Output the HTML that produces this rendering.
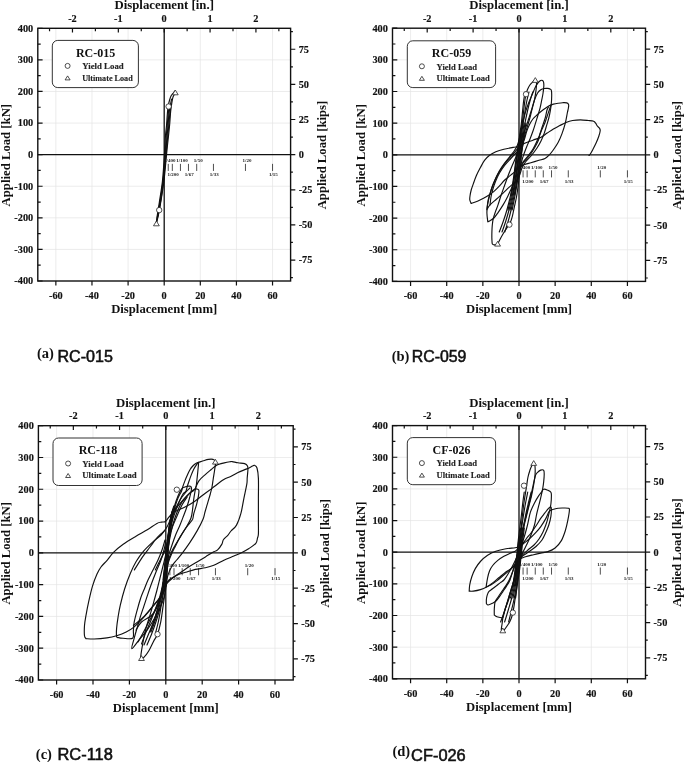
<!DOCTYPE html>
<html><head><meta charset="utf-8"><style>
html,body{margin:0;padding:0;background:#fff;width:685px;height:762px;overflow:hidden}
svg{display:block;filter:grayscale(1)}
</style></head><body>
<svg width="685" height="762" viewBox="0 0 685 762">
<rect width="685" height="762" fill="#fff"/>
<path d="M55.86 28.3V281M91.97 28.3V281M128.09 28.3V281M200.31 28.3V281M236.43 28.3V281M272.54 28.3V281M37.8 249.41H290.6M37.8 217.82H290.6M37.8 186.24H290.6M37.8 123.06H290.6M37.8 91.47H290.6M37.8 59.89H290.6" stroke="#e4e4e4" stroke-width="0.7" fill="none"/>
<path d="M37.8 154.65H290.6M164.2 28.3V281" stroke="#111" stroke-width="1.3" fill="none"/>
<path d="M37.8 281h4.8M37.8 265.21h2.9M37.8 249.41h4.8M37.8 233.62h2.9M37.8 217.82h4.8M37.8 202.03h2.9M37.8 186.24h4.8M37.8 170.44h2.9M37.8 154.65h4.8M37.8 138.86h2.9M37.8 123.06h4.8M37.8 107.27h2.9M37.8 91.47h4.8M37.8 75.68h2.9M37.8 59.89h4.8M37.8 44.09h2.9M37.8 28.3h4.8M55.86 281v4.5M91.97 281v4.5M128.09 281v4.5M164.2 281v4.5M200.31 281v4.5M236.43 281v4.5M272.54 281v4.5M49.54 28.3v2.9M72.47 28.3v4.3M95.4 28.3v2.9M118.33 28.3v4.3M141.27 28.3v2.9M164.2 28.3v4.3M187.13 28.3v2.9M210.07 28.3v4.3M233 28.3v2.9M255.93 28.3v4.3M278.86 28.3v2.9M290.6 277.59h2.3M290.6 260.03h4.7M290.6 242.47h2.3M290.6 224.9h4.7M290.6 207.34h2.3M290.6 189.78h4.7M290.6 172.21h2.3M290.6 154.65h4.7M290.6 137.09h2.3M290.6 119.52h4.7M290.6 101.96h2.3M290.6 84.4h4.7M290.6 66.83h2.3M290.6 49.27h4.7M290.6 31.71h2.3" stroke="#111" stroke-width="1.2" fill="none"/>
<rect x="37.8" y="28.3" width="252.8" height="252.7" fill="none" stroke="#111" stroke-width="1.4"/>
<g font-family="'Liberation Serif', serif" font-weight="bold" font-size="10.3" fill="#111" stroke="#111" stroke-width="0.15"><text x="33.2" y="284.4" text-anchor="end">-400</text><text x="33.2" y="252.81" text-anchor="end">-300</text><text x="33.2" y="221.22" text-anchor="end">-200</text><text x="33.2" y="189.64" text-anchor="end">-100</text><text x="33.2" y="158.05" text-anchor="end">0</text><text x="33.2" y="126.46" text-anchor="end">100</text><text x="33.2" y="94.88" text-anchor="end">200</text><text x="33.2" y="63.29" text-anchor="end">300</text><text x="33.2" y="31.7" text-anchor="end">400</text><text x="55.86" y="298.9" text-anchor="middle">-60</text><text x="91.97" y="298.9" text-anchor="middle">-40</text><text x="128.09" y="298.9" text-anchor="middle">-20</text><text x="164.2" y="298.9" text-anchor="middle">0</text><text x="200.31" y="298.9" text-anchor="middle">20</text><text x="236.43" y="298.9" text-anchor="middle">40</text><text x="272.54" y="298.9" text-anchor="middle">60</text><text x="72.47" y="21.7" text-anchor="middle">-2</text><text x="118.33" y="21.7" text-anchor="middle">-1</text><text x="164.2" y="21.7" text-anchor="middle">0</text><text x="210.07" y="21.7" text-anchor="middle">1</text><text x="255.93" y="21.7" text-anchor="middle">2</text><text x="298.7" y="263.43">-75</text><text x="298.7" y="228.3">-50</text><text x="298.7" y="193.18">-25</text><text x="298.7" y="158.05">0</text><text x="298.7" y="122.92">25</text><text x="298.7" y="87.8">50</text><text x="298.7" y="52.67">75</text></g>
<g font-family="'Liberation Serif', serif" font-weight="bold" font-size="12.9" fill="#111"><text x="164.2" y="312.8" text-anchor="middle" textLength="106" lengthAdjust="spacingAndGlyphs">Displacement [mm]</text><text x="164.2" y="9.3" text-anchor="middle" textLength="99.5" lengthAdjust="spacingAndGlyphs">Displacement [in.]</text><text transform="translate(9.8 155.15) rotate(-90)" text-anchor="middle" textLength="102.5" lengthAdjust="spacingAndGlyphs">Applied Load [kN]</text><text transform="translate(326.4 155.05) rotate(-90)" text-anchor="middle" textLength="108.5" lengthAdjust="spacingAndGlyphs">Applied Load [kips]</text></g>
<rect x="52.3" y="40.4" width="86.1" height="47.2" rx="5.5" fill="#fff" stroke="#333" stroke-width="1"/>
<text x="95.6" y="56.6" font-family="'Liberation Serif', serif" font-weight="bold" font-size="12" text-anchor="middle" fill="#111">RC-015</text>
<circle cx="67.6" cy="65.9" r="2.5" fill="#fff" stroke="#222" stroke-width="0.8"/>
<path d="M67.6 75.9l2.5 4h-5z" fill="#fff" stroke="#222" stroke-width="0.8"/>
<g font-family="'Liberation Serif', serif" font-weight="bold" font-size="8.4" fill="#222" stroke="#222" stroke-width="0.12"><text x="82.2" y="69.1" textLength="41.5" lengthAdjust="spacingAndGlyphs">Yield Load</text><text x="82.2" y="80.8" textLength="50.5" lengthAdjust="spacingAndGlyphs">Ultimate Load</text></g>
<path d="M168.26 163.85v7.1M172.33 163.85v7.1M180.45 163.85v7.1M188.46 163.85v7.1M196.7 163.85v7.1M213.45 163.85v7.1M245.46 163.85v7.1M272.54 163.85v7.1" stroke="#222" stroke-width="0.8" fill="none"/>
<g font-family="'Liberation Serif', serif" font-weight="bold" font-size="5" fill="#222"><text x="169.76" y="162.25" text-anchor="middle">1/400</text><text x="173.13" y="176.05" text-anchor="middle">1/200</text><text x="181.95" y="162.25" text-anchor="middle">1/100</text><text x="189.26" y="176.05" text-anchor="middle">1/67</text><text x="198.2" y="162.25" text-anchor="middle">1/50</text><text x="214.25" y="176.05" text-anchor="middle">1/33</text><text x="246.96" y="162.25" text-anchor="middle">1/20</text><text x="273.34" y="176.05" text-anchor="middle">1/15</text></g>
<path d="M156.4 222C156.6 220.5 157.12 216.25 157.6 213C158.08 209.75 158.5 207.75 159.3 202.5C160.1 197.25 161.6 188.58 162.4 181.5C163.2 174.42 163.72 165.25 164.1 160C164.48 154.75 164.52 153.33 164.7 150C164.88 146.67 165.02 143 165.2 140C165.38 137 165.58 134.37 165.8 132C166.02 129.63 166.23 128.93 166.5 125.8C166.77 122.67 167.12 116.5 167.4 113.2C167.68 109.9 167.83 108.2 168.2 106C168.57 103.8 169.13 101.67 169.6 100C170.07 98.33 170.47 97.05 171 96C171.53 94.95 172.18 94.5 172.8 93.7C173.42 92.9 174.38 91.62 174.7 91.2" fill="none" stroke="#111" stroke-width="1.15" stroke-linejoin="round" stroke-linecap="round"/>
<path d="M176.3 93C175.98 93.22 174.93 93.67 174.4 94.3C173.87 94.93 173.47 95.75 173.1 96.8C172.73 97.85 172.47 99.23 172.2 100.6C171.93 101.97 171.77 103.1 171.5 105C171.23 106.9 170.9 108.83 170.6 112C170.3 115.17 170.02 120.33 169.7 124C169.38 127.67 169.07 130.5 168.7 134C168.33 137.5 167.87 141.5 167.5 145C167.13 148.5 167.1 148.92 166.5 155C165.9 161.08 164.87 173.58 163.9 181.5C162.93 189.42 161.58 197.08 160.7 202.5C159.82 207.92 159.25 210.75 158.6 214C157.95 217.25 157.1 220.67 156.8 222" fill="none" stroke="#111" stroke-width="1.15" stroke-linejoin="round" stroke-linecap="round"/>
<path d="M156.6 221C157.13 218 158.7 209.67 159.8 203C160.9 196.33 162.28 188.17 163.2 181C164.12 173.83 164.83 165.17 165.3 160C165.77 154.83 165.73 153.67 166 150C166.27 146.33 166.57 142.03 166.9 138C167.23 133.97 167.65 129.93 168 125.8C168.35 121.67 168.6 116.67 169 113.2C169.4 109.73 169.97 107.37 170.4 105C170.83 102.63 171.4 100 171.6 99" fill="none" stroke="#111" stroke-width="1.15" stroke-linejoin="round" stroke-linecap="round"/>
<path d="M157.5 218C158 215 159.53 206.67 160.5 200C161.47 193.33 162.58 184.67 163.3 178C164.02 171.33 164.45 164.67 164.8 160C165.15 155.33 165.18 153.67 165.4 150C165.62 146.33 165.8 142.03 166.1 138C166.4 133.97 166.85 129.8 167.2 125.8C167.55 121.8 167.9 116.97 168.2 114C168.5 111.03 168.87 109 169 108" fill="none" stroke="#111" stroke-width="1.15" stroke-linejoin="round" stroke-linecap="round"/>
<path d="M158 216C158.53 213 160.2 204.67 161.2 198C162.2 191.33 163.23 182.83 164 176C164.77 169.17 165.35 161.83 165.8 157C166.25 152.17 166.37 150.5 166.7 147C167.03 143.5 167.43 139.83 167.8 136C168.17 132.17 168.55 127.83 168.9 124C169.25 120.17 169.58 116 169.9 113C170.22 110 170.65 107.17 170.8 106" fill="none" stroke="#111" stroke-width="1.15" stroke-linejoin="round" stroke-linecap="round"/>
<circle cx="168.6" cy="106.5" r="2.7" fill="#fff" stroke="#222" stroke-width="0.8"/>
<path d="M175.3 90l2.9 4.8h-5.8z" fill="#fff" stroke="#222" stroke-width="0.8" stroke-linejoin="round"/>
<circle cx="159.2" cy="210.1" r="2.7" fill="#fff" stroke="#222" stroke-width="0.8"/>
<path d="M156.4 221l2.9 4.8h-5.8z" fill="#fff" stroke="#222" stroke-width="0.8" stroke-linejoin="round"/>
<text x="37" y="358.2" font-family="'Liberation Serif', serif" font-weight="bold" font-size="14.5" fill="#111">(a)</text>
<text x="57.5" y="361.6" font-family="'Liberation Sans', sans-serif" font-size="16" fill="#111" stroke="#111" stroke-width="0.55" textLength="55.35" lengthAdjust="spacingAndGlyphs">RC-015</text>
<path d="M410.57 28.2V281.4M446.71 28.2V281.4M482.86 28.2V281.4M555.14 28.2V281.4M591.29 28.2V281.4M627.43 28.2V281.4M392.5 249.75H645.5M392.5 218.1H645.5M392.5 186.45H645.5M392.5 123.15H645.5M392.5 91.5H645.5M392.5 59.85H645.5" stroke="#e4e4e4" stroke-width="0.7" fill="none"/>
<path d="M392.5 154.8H645.5M519 28.2V281.4" stroke="#111" stroke-width="1.3" fill="none"/>
<path d="M392.5 281.4h4.8M392.5 265.57h2.9M392.5 249.75h4.8M392.5 233.92h2.9M392.5 218.1h4.8M392.5 202.27h2.9M392.5 186.45h4.8M392.5 170.62h2.9M392.5 154.8h4.8M392.5 138.97h2.9M392.5 123.15h4.8M392.5 107.33h2.9M392.5 91.5h4.8M392.5 75.67h2.9M392.5 59.85h4.8M392.5 44.02h2.9M392.5 28.2h4.8M410.57 281.4v4.5M446.71 281.4v4.5M482.86 281.4v4.5M519 281.4v4.5M555.14 281.4v4.5M591.29 281.4v4.5M627.43 281.4v4.5M404.25 28.2v2.9M427.2 28.2v4.3M450.15 28.2v2.9M473.1 28.2v4.3M496.05 28.2v2.9M519 28.2v4.3M541.95 28.2v2.9M564.9 28.2v4.3M587.85 28.2v2.9M610.8 28.2v4.3M633.75 28.2v2.9M645.5 277.99h2.3M645.5 260.39h4.7M645.5 242.79h2.3M645.5 225.19h4.7M645.5 207.59h2.3M645.5 190h4.7M645.5 172.4h2.3M645.5 154.8h4.7M645.5 137.2h2.3M645.5 119.6h4.7M645.5 102.01h2.3M645.5 84.41h4.7M645.5 66.81h2.3M645.5 49.21h4.7M645.5 31.61h2.3" stroke="#111" stroke-width="1.2" fill="none"/>
<rect x="392.5" y="28.2" width="253" height="253.2" fill="none" stroke="#111" stroke-width="1.4"/>
<g font-family="'Liberation Serif', serif" font-weight="bold" font-size="10.3" fill="#111" stroke="#111" stroke-width="0.15"><text x="387.9" y="284.8" text-anchor="end">-400</text><text x="387.9" y="253.15" text-anchor="end">-300</text><text x="387.9" y="221.5" text-anchor="end">-200</text><text x="387.9" y="189.85" text-anchor="end">-100</text><text x="387.9" y="158.2" text-anchor="end">0</text><text x="387.9" y="126.55" text-anchor="end">100</text><text x="387.9" y="94.9" text-anchor="end">200</text><text x="387.9" y="63.25" text-anchor="end">300</text><text x="387.9" y="31.6" text-anchor="end">400</text><text x="410.57" y="299.3" text-anchor="middle">-60</text><text x="446.71" y="299.3" text-anchor="middle">-40</text><text x="482.86" y="299.3" text-anchor="middle">-20</text><text x="519" y="299.3" text-anchor="middle">0</text><text x="555.14" y="299.3" text-anchor="middle">20</text><text x="591.29" y="299.3" text-anchor="middle">40</text><text x="627.43" y="299.3" text-anchor="middle">60</text><text x="427.2" y="21.6" text-anchor="middle">-2</text><text x="473.1" y="21.6" text-anchor="middle">-1</text><text x="519" y="21.6" text-anchor="middle">0</text><text x="564.9" y="21.6" text-anchor="middle">1</text><text x="610.8" y="21.6" text-anchor="middle">2</text><text x="653.6" y="263.79">-75</text><text x="653.6" y="228.59">-50</text><text x="653.6" y="193.4">-25</text><text x="653.6" y="158.2">0</text><text x="653.6" y="123">25</text><text x="653.6" y="87.81">50</text><text x="653.6" y="52.61">75</text></g>
<g font-family="'Liberation Serif', serif" font-weight="bold" font-size="12.9" fill="#111"><text x="519" y="313.2" text-anchor="middle" textLength="106" lengthAdjust="spacingAndGlyphs">Displacement [mm]</text><text x="519" y="9.2" text-anchor="middle" textLength="99.5" lengthAdjust="spacingAndGlyphs">Displacement [in.]</text><text transform="translate(364.5 155.3) rotate(-90)" text-anchor="middle" textLength="102.5" lengthAdjust="spacingAndGlyphs">Applied Load [kN]</text><text transform="translate(681.3 155.2) rotate(-90)" text-anchor="middle" textLength="108.5" lengthAdjust="spacingAndGlyphs">Applied Load [kips]</text></g>
<rect x="407.3" y="40.8" width="88.3" height="46.8" rx="5.5" fill="#fff" stroke="#333" stroke-width="1"/>
<text x="451.5" y="57" font-family="'Liberation Serif', serif" font-weight="bold" font-size="12" text-anchor="middle" fill="#111">RC-059</text>
<circle cx="421.9" cy="66.3" r="2.5" fill="#fff" stroke="#222" stroke-width="0.8"/>
<path d="M421.9 76.3l2.5 4h-5z" fill="#fff" stroke="#222" stroke-width="0.8"/>
<g font-family="'Liberation Serif', serif" font-weight="bold" font-size="8.4" fill="#222" stroke="#222" stroke-width="0.12"><text x="436.5" y="69.5" textLength="40.6" lengthAdjust="spacingAndGlyphs">Yield Load</text><text x="436.5" y="81.2" textLength="53.3" lengthAdjust="spacingAndGlyphs">Ultimate Load</text></g>
<path d="M523.07 170.3v7.1M527.13 170.3v7.1M535.26 170.3v7.1M543.28 170.3v7.1M551.53 170.3v7.1M568.29 170.3v7.1M600.32 170.3v7.1M627.43 170.3v7.1" stroke="#222" stroke-width="0.8" fill="none"/>
<g font-family="'Liberation Serif', serif" font-weight="bold" font-size="5" fill="#222"><text x="524.57" y="168.7" text-anchor="middle">1/400</text><text x="527.93" y="182.5" text-anchor="middle">1/200</text><text x="536.76" y="168.7" text-anchor="middle">1/100</text><text x="544.08" y="182.5" text-anchor="middle">1/67</text><text x="553.03" y="168.7" text-anchor="middle">1/50</text><text x="569.09" y="182.5" text-anchor="middle">1/33</text><text x="601.82" y="168.7" text-anchor="middle">1/20</text><text x="628.23" y="182.5" text-anchor="middle">1/15</text></g>
<path d="M494 244.8C493.72 244.65 492.65 244.87 492.3 243.9C491.95 242.93 491.97 240.98 491.9 239C491.83 237.02 491.83 234.33 491.9 232C491.97 229.67 492.08 227.18 492.3 225C492.52 222.82 492.68 221.08 493.2 218.9C493.72 216.72 494.6 214.23 495.4 211.9C496.2 209.57 497.05 207.67 498 204.9C498.95 202.13 500.03 198.45 501.1 195.3C502.17 192.15 503.25 189.22 504.4 186C505.55 182.78 506.73 179.33 508 176C509.27 172.67 510.75 169 512 166C513.25 163 514.45 160.67 515.5 158C516.55 155.33 517.55 153 518.3 150C519.05 147 519.52 143.33 520 140C520.48 136.67 520.78 133.17 521.2 130C521.62 126.83 522 125 522.5 121C523 117 523.68 110.17 524.2 106C524.72 101.83 525.05 98.75 525.6 96C526.15 93.25 526.78 91.33 527.5 89.5C528.22 87.67 529.08 86.2 529.9 85C530.72 83.8 531.55 83.1 532.4 82.3C533.25 81.5 534.32 80.03 535 80.2C535.68 80.37 536.33 81.6 536.5 83.3C536.67 85 536.33 87.68 536 90.4C535.67 93.12 535.1 96.7 534.5 99.6C533.9 102.5 533.08 105.07 532.4 107.8C531.72 110.53 531.17 113.1 530.4 116C529.63 118.9 528.65 122.3 527.8 125.2C526.95 128.1 526.02 130.77 525.3 133.4C524.58 136.03 524.05 138.23 523.5 141C522.95 143.77 522.42 146.83 522 150C521.58 153.17 521.33 156.67 521 160C520.67 163.33 520.37 166.67 520 170C519.63 173.33 519.2 176.67 518.8 180C518.4 183.33 518.02 187 517.6 190C517.18 193 516.82 195.3 516.3 198C515.78 200.7 515.15 203.18 514.5 206.2C513.85 209.22 513.1 213.37 512.4 216.1C511.7 218.83 511.12 220.78 510.3 222.6C509.48 224.42 508.47 225.52 507.5 227C506.53 228.48 505.58 229.75 504.5 231.5C503.42 233.25 502 235.67 501 237.5C500 239.33 499.17 241.32 498.5 242.5C497.83 243.68 497.75 244.22 497 244.6C496.25 244.98 494.5 244.77 494 244.8" fill="none" stroke="#111" stroke-width="1.15" stroke-linejoin="round" stroke-linecap="round"/>
<path d="M487.8 221.8C487.65 220.33 486.95 215.78 486.9 213C486.85 210.22 487.07 207.95 487.5 205.1C487.93 202.25 488.73 198.97 489.5 195.9C490.27 192.83 491.12 189.53 492.1 186.7C493.08 183.87 494.2 181.52 495.4 178.9C496.6 176.28 497.77 173.63 499.3 171C500.83 168.37 502.85 165.5 504.6 163.1C506.35 160.7 508.2 158.62 509.8 156.6C511.4 154.58 512.92 152.93 514.2 151C515.48 149.07 516.57 147.33 517.5 145C518.43 142.67 519.12 139.83 519.8 137C520.48 134.17 521 130.83 521.6 128C522.2 125.17 522.75 122.67 523.4 120C524.05 117.33 524.63 114.83 525.5 112C526.37 109.17 527.45 106 528.6 103C529.75 100 531.3 96.6 532.4 94C533.5 91.4 534.27 89.27 535.2 87.4C536.13 85.53 537.1 83.93 538 82.8C538.9 81.67 539.85 81 540.6 80.6C541.35 80.2 542 80.12 542.5 80.4C543 80.68 543.38 81.3 543.6 82.3C543.82 83.3 543.9 84.53 543.8 86.4C543.7 88.27 543.37 91.12 543 93.5C542.63 95.88 542.08 98.32 541.6 100.7C541.12 103.08 540.7 105.42 540.1 107.8C539.5 110.18 538.77 112.45 538 115C537.23 117.55 536.35 120.38 535.5 123.1C534.65 125.82 533.82 128.65 532.9 131.3C531.98 133.95 530.98 136.55 530 139C529.02 141.45 527.95 143.67 527 146C526.05 148.33 525.13 150.67 524.3 153C523.47 155.33 522.72 157.17 522 160C521.28 162.83 520.6 167.17 520 170C519.4 172.83 518.98 175.17 518.4 177C517.82 178.83 517.18 180 516.5 181C515.82 182 515.12 181.85 514.3 183C513.48 184.15 512.7 185.67 511.6 187.9C510.5 190.13 509.12 193.57 507.7 196.4C506.28 199.23 504.73 202.17 503.1 204.9C501.47 207.63 499.43 210.62 497.9 212.8C496.37 214.98 495.22 216.68 493.9 218C492.58 219.32 491.02 220.07 490 220.7C488.98 221.33 488.17 221.62 487.8 221.8" fill="none" stroke="#111" stroke-width="1.15" stroke-linejoin="round" stroke-linecap="round"/>
<path d="M486.9 209.7C487.12 208.05 487.43 203.2 488.2 199.8C488.97 196.4 490.37 192.57 491.5 189.3C492.63 186.03 493.75 183.03 495 180.2C496.25 177.37 497.45 174.93 499 172.3C500.55 169.67 502.55 166.8 504.3 164.4C506.05 162 507.88 159.8 509.5 157.9C511.12 156 512.72 154.48 514 153C515.28 151.52 516.28 150.5 517.2 149C518.12 147.5 518.65 146 519.5 144C520.35 142 521.33 139.5 522.3 137C523.27 134.5 524.25 132 525.3 129C526.35 126 527.57 122.17 528.6 119C529.63 115.83 530.52 113.17 531.5 110C532.48 106.83 533.48 102.83 534.5 100C535.52 97.17 536.55 94.7 537.6 93C538.65 91.3 539.7 90.55 540.8 89.8C541.9 89.05 543.08 88.73 544.2 88.5C545.32 88.27 546.48 88.28 547.5 88.4C548.52 88.52 549.65 88.83 550.3 89.2C550.95 89.57 551.17 89.55 551.4 90.6C551.63 91.65 551.72 93.32 551.7 95.5C551.68 97.68 551.53 101.13 551.3 103.7C551.07 106.27 550.72 108.52 550.3 110.9C549.88 113.28 549.4 115.62 548.8 118C548.2 120.38 547.47 122.63 546.7 125.2C545.93 127.77 545.15 130.77 544.2 133.4C543.25 136.03 542.2 138.57 541 141C539.8 143.43 538.67 145.5 537 148C535.33 150.5 532.92 153.67 531 156C529.08 158.33 527 160 525.5 162C524 164 522.92 166 522 168C521.08 170 520.83 171.92 520 174C519.17 176.08 518.17 178.85 517 180.5C515.83 182.15 514.43 182.67 513 183.9C511.57 185.13 510.05 186.37 508.4 187.9C506.75 189.43 505.07 191.25 503.1 193.1C501.13 194.95 498.78 197.03 496.6 199C494.42 200.97 491.62 203.12 490 204.9C488.38 206.68 487.42 208.9 486.9 209.7" fill="none" stroke="#111" stroke-width="1.15" stroke-linejoin="round" stroke-linecap="round"/>
<path d="M490 204.9C490.17 203.58 490.57 199.48 491 197C491.43 194.52 491.85 192.58 492.6 190C493.35 187.42 494.35 184.33 495.5 181.5C496.65 178.67 497.92 175.75 499.5 173C501.08 170.25 503.12 167.42 505 165C506.88 162.58 509.05 160.42 510.8 158.5C512.55 156.58 514.13 154.92 515.5 153.5C516.87 152.08 517.95 151.25 519 150C520.05 148.75 520.88 147.83 521.8 146C522.72 144.17 523.67 141.5 524.5 139C525.33 136.5 525.92 133.5 526.8 131C527.68 128.5 528.78 126 529.8 124C530.82 122 531.7 120.5 532.9 119C534.1 117.5 535.65 116.25 537 115C538.35 113.75 539.67 112.58 541 111.5C542.33 110.42 543.57 109.5 545 108.5C546.43 107.5 548.2 106.23 549.6 105.5C551 104.77 551.98 104.48 553.4 104.1C554.82 103.72 556.55 103.43 558.1 103.2C559.65 102.97 561.25 102.75 562.7 102.7C564.15 102.65 565.82 102.58 566.8 102.9C567.78 103.22 568.33 103.75 568.6 104.6C568.87 105.45 568.62 106.6 568.4 108C568.18 109.4 567.82 110.48 567.3 113C566.78 115.52 566.18 119.67 565.3 123.1C564.42 126.53 563.2 130.37 562 133.6C560.8 136.83 559.62 139.68 558.1 142.5C556.58 145.32 554.43 148.37 552.9 150.5C551.37 152.63 550.22 153.98 548.9 155.3C547.58 156.62 546.65 157.57 545 158.4C543.35 159.23 541.35 159.58 539 160.3C536.65 161.02 533.4 161.95 530.9 162.7C528.4 163.45 525.7 164.17 524 164.8C522.3 165.43 522.45 165.15 520.7 166.5C518.95 167.85 516.07 170.73 513.5 172.9C510.93 175.07 507.75 177.22 505.3 179.5C502.85 181.78 500.73 184.58 498.8 186.6C496.87 188.62 495.4 190.15 493.7 191.6C492 193.05 490.3 194.2 488.6 195.3C486.9 196.4 485.37 197.2 483.5 198.2C481.63 199.2 479.45 200.43 477.4 201.3C475.35 202.17 472.23 203.05 471.2 203.4" fill="none" stroke="#111" stroke-width="1.15" stroke-linejoin="round" stroke-linecap="round"/>
<path d="M471.2 203.4C470.97 202.83 470 201.23 469.8 200C469.6 198.77 469.77 197.67 470 196C470.23 194.33 470.65 192.02 471.2 190C471.75 187.98 472.45 186.27 473.3 183.9C474.15 181.53 475.12 178.52 476.3 175.8C477.48 173.08 479.03 170.17 480.4 167.6C481.77 165.03 482.97 162.45 484.5 160.4C486.03 158.35 487.72 156.73 489.6 155.3C491.48 153.87 493.42 152.82 495.8 151.8C498.18 150.78 501.02 149.93 503.9 149.2C506.78 148.47 510.52 147.9 513.1 147.4C515.68 146.9 517.63 146.83 519.4 146.2C521.17 145.57 521.45 144.6 523.7 143.6C525.95 142.6 530 141.27 532.9 140.2C535.8 139.13 538.72 138.38 541.1 137.2C543.48 136.02 545.15 134.47 547.2 133.1C549.25 131.73 551.37 130.22 553.4 129C555.43 127.78 557.3 126.88 559.4 125.8C561.5 124.72 563.8 123.38 566 122.5C568.2 121.62 570.2 120.95 572.6 120.5C575 120.05 577.78 119.8 580.4 119.8C583.02 119.8 586.1 120.25 588.3 120.5C590.5 120.75 592.38 120.85 593.6 121.3C594.82 121.75 594.95 122.38 595.6 123.2C596.25 124.02 596.83 125.33 597.5 126.2C598.17 127.07 599.15 127.63 599.6 128.4C600.05 129.17 600.33 129.48 600.2 130.8C600.07 132.12 599.47 134.3 598.8 136.3C598.13 138.3 597.18 140.62 596.2 142.8C595.22 144.98 593.88 147.53 592.9 149.4C591.92 151.27 590.95 152.98 590.3 154C589.65 155.02 589.22 155.25 589 155.5" fill="none" stroke="#111" stroke-width="1.15" stroke-linejoin="round" stroke-linecap="round"/>
<path d="M551 105C550.72 105.83 549.93 108.17 549.3 110C548.67 111.83 547.88 114 547.2 116C546.52 118 546.05 119.83 545.2 122C544.35 124.17 542.95 127 542.1 129C541.25 131 540.95 132 540.1 134C539.25 136 538.18 138.5 537 141C535.82 143.5 534.5 146.5 533 149C531.5 151.5 529.75 153.67 528 156C526.25 158.33 523.83 160.67 522.5 163C521.17 165.33 520.42 168.83 520 170" fill="none" stroke="#111" stroke-width="1.15" stroke-linejoin="round" stroke-linecap="round"/>
<path d="M548.5 107C548.25 107.5 547.55 108.17 547 110C546.45 111.83 546.02 115.13 545.2 118C544.38 120.87 542.95 124.63 542.1 127.2C541.25 129.77 540.7 131.27 540.1 133.4C539.5 135.53 539.35 137.73 538.5 140C537.65 142.27 536.42 144.5 535 147C533.58 149.5 531.83 152.5 530 155C528.17 157.5 525.58 160 524 162C522.42 164 521.08 166.17 520.5 167" fill="none" stroke="#111" stroke-width="1.15" stroke-linejoin="round" stroke-linecap="round"/>
<path d="M499.24 232C499.87 230.33 501.76 225.67 503.04 222C504.32 218.33 505.64 214.5 506.9 210C508.16 205.5 509.55 200 510.6 195C511.65 190 512.43 185 513.2 180C513.97 175 514.63 169.17 515.2 165C515.77 160.83 516.07 158.33 516.6 155C517.13 151.67 517.87 148.5 518.4 145C518.93 141.5 519.3 137.67 519.8 134C520.3 130.33 520.92 127 521.4 123C521.88 119 522.29 113.83 522.68 110C523.07 106.17 523.34 103 523.76 100C524.18 97 524.95 93.33 525.18 92" fill="none" stroke="#111" stroke-width="1.15" stroke-linejoin="round" stroke-linecap="round"/>
<path d="M502 232C502.58 230.33 504.33 225.67 505.5 222C506.67 218.33 507.85 214.5 509 210C510.15 205.5 511.4 200 512.4 195C513.4 190 514.23 185 515 180C515.77 175 516.43 169.17 517 165C517.57 160.83 517.87 158.33 518.4 155C518.93 151.67 519.67 148.5 520.2 145C520.73 141.5 521.1 137.67 521.6 134C522.1 130.33 522.6 127 523.2 123C523.8 119 524.57 113.83 525.2 110C525.83 106.17 526.37 103 527 100C527.63 97 528.67 93.33 529 92" fill="none" stroke="#111" stroke-width="1.15" stroke-linejoin="round" stroke-linecap="round"/>
<path d="M504.76 232C505.29 230.33 506.9 225.67 507.96 222C509.02 218.33 510.06 214.5 511.1 210C512.14 205.5 513.25 200 514.2 195C515.15 190 516.03 185 516.8 180C517.57 175 518.23 169.17 518.8 165C519.37 160.83 519.67 158.33 520.2 155C520.73 151.67 521.47 148.5 522 145C522.53 141.5 522.9 137.67 523.4 134C523.9 130.33 524.28 127 525 123C525.72 119 526.85 113.83 527.72 110C528.59 106.17 529.39 103 530.24 100C531.09 97 532.39 93.33 532.82 92" fill="none" stroke="#111" stroke-width="1.15" stroke-linejoin="round" stroke-linecap="round"/>
<path d="M507.95 210C508.54 207.5 510.48 200 511.5 195C512.52 190 513.33 185 514.1 180C514.87 175 515.53 169.17 516.1 165C516.67 160.83 516.97 158.33 517.5 155C518.03 151.67 518.77 148.5 519.3 145C519.83 141.5 520.2 137.67 520.7 134C521.2 130.33 522.03 124.83 522.3 123" fill="none" stroke="#111" stroke-width="1.15" stroke-linejoin="round" stroke-linecap="round"/>
<path d="M510.05 210C510.59 207.5 512.32 200 513.3 195C514.27 190 515.13 185 515.9 180C516.67 175 517.33 169.17 517.9 165C518.47 160.83 518.77 158.33 519.3 155C519.83 151.67 520.57 148.5 521.1 145C521.63 141.5 522 137.67 522.5 134C523 130.33 523.83 124.83 524.1 123" fill="none" stroke="#111" stroke-width="1.15" stroke-linejoin="round" stroke-linecap="round"/>
<path d="M512.15 210C512.64 207.5 514.17 200 515.1 195C516.03 190 516.93 185 517.7 180C518.47 175 519.13 169.17 519.7 165C520.27 160.83 520.57 158.33 521.1 155C521.63 151.67 522.37 148.5 522.9 145C523.43 141.5 523.8 137.67 524.3 134C524.8 130.33 525.63 124.83 525.9 123" fill="none" stroke="#111" stroke-width="1.15" stroke-linejoin="round" stroke-linecap="round"/>
<path d="M511.1 195C511.53 192.5 512.93 185 513.7 180C514.47 175 515.13 169.17 515.7 165C516.27 160.83 516.57 158.33 517.1 155C517.63 151.67 518.37 148.5 518.9 145C519.43 141.5 520.07 135.83 520.3 134" fill="none" stroke="#111" stroke-width="1.15" stroke-linejoin="round" stroke-linecap="round"/>
<path d="M512.9 195C513.33 192.5 514.73 185 515.5 180C516.27 175 516.93 169.17 517.5 165C518.07 160.83 518.37 158.33 518.9 155C519.43 151.67 520.17 148.5 520.7 145C521.23 141.5 521.87 135.83 522.1 134" fill="none" stroke="#111" stroke-width="1.15" stroke-linejoin="round" stroke-linecap="round"/>
<path d="M514.6 195C515.03 192.5 516.43 185 517.2 180C517.97 175 518.63 169.17 519.2 165C519.77 160.83 520.07 158.33 520.6 155C521.13 151.67 521.87 148.5 522.4 145C522.93 141.5 523.57 135.83 523.8 134" fill="none" stroke="#111" stroke-width="1.15" stroke-linejoin="round" stroke-linecap="round"/>
<circle cx="526" cy="94.2" r="2.7" fill="#fff" stroke="#222" stroke-width="0.8"/>
<path d="M535.3 77.6l2.9 4.8h-5.8z" fill="#fff" stroke="#222" stroke-width="0.8" stroke-linejoin="round"/>
<circle cx="509.4" cy="224.6" r="2.7" fill="#fff" stroke="#222" stroke-width="0.8"/>
<path d="M497.6 241.3l2.9 4.8h-5.8z" fill="#fff" stroke="#222" stroke-width="0.8" stroke-linejoin="round"/>
<text x="391.7" y="361.1" font-family="'Liberation Serif', serif" font-weight="bold" font-size="14.5" fill="#111">(b)</text>
<text x="411.8" y="361.6" font-family="'Liberation Sans', sans-serif" font-size="16" fill="#111" stroke="#111" stroke-width="0.55" textLength="54.65" lengthAdjust="spacingAndGlyphs">RC-059</text>
<path d="M56.6 425.7V680M93 425.7V680M129.4 425.7V680M202.2 425.7V680M238.6 425.7V680M275 425.7V680M38.4 648.21H293.2M38.4 616.42H293.2M38.4 584.64H293.2M38.4 521.06H293.2M38.4 489.27H293.2M38.4 457.49H293.2" stroke="#e4e4e4" stroke-width="0.7" fill="none"/>
<path d="M38.4 552.85H293.2M165.8 425.7V680" stroke="#111" stroke-width="1.3" fill="none"/>
<path d="M38.4 680h4.8M38.4 664.11h2.9M38.4 648.21h4.8M38.4 632.32h2.9M38.4 616.42h4.8M38.4 600.53h2.9M38.4 584.64h4.8M38.4 568.74h2.9M38.4 552.85h4.8M38.4 536.96h2.9M38.4 521.06h4.8M38.4 505.17h2.9M38.4 489.27h4.8M38.4 473.38h2.9M38.4 457.49h4.8M38.4 441.59h2.9M38.4 425.7h4.8M56.6 680v4.5M93 680v4.5M129.4 680v4.5M165.8 680v4.5M202.2 680v4.5M238.6 680v4.5M275 680v4.5M50.23 425.7v2.9M73.34 425.7v4.3M96.46 425.7v2.9M119.57 425.7v4.3M142.69 425.7v2.9M165.8 425.7v4.3M188.91 425.7v2.9M212.03 425.7v4.3M235.14 425.7v2.9M258.26 425.7v4.3M281.37 425.7v2.9M293.2 676.57h2.3M293.2 658.9h4.7M293.2 641.22h2.3M293.2 623.55h4.7M293.2 605.87h2.3M293.2 588.2h4.7M293.2 570.52h2.3M293.2 552.85h4.7M293.2 535.18h2.3M293.2 517.5h4.7M293.2 499.83h2.3M293.2 482.15h4.7M293.2 464.48h2.3M293.2 446.8h4.7M293.2 429.13h2.3" stroke="#111" stroke-width="1.2" fill="none"/>
<rect x="38.4" y="425.7" width="254.8" height="254.3" fill="none" stroke="#111" stroke-width="1.4"/>
<g font-family="'Liberation Serif', serif" font-weight="bold" font-size="10.3" fill="#111" stroke="#111" stroke-width="0.15"><text x="33.8" y="683.4" text-anchor="end">-400</text><text x="33.8" y="651.61" text-anchor="end">-300</text><text x="33.8" y="619.82" text-anchor="end">-200</text><text x="33.8" y="588.04" text-anchor="end">-100</text><text x="33.8" y="556.25" text-anchor="end">0</text><text x="33.8" y="524.46" text-anchor="end">100</text><text x="33.8" y="492.67" text-anchor="end">200</text><text x="33.8" y="460.89" text-anchor="end">300</text><text x="33.8" y="429.1" text-anchor="end">400</text><text x="56.6" y="697.9" text-anchor="middle">-60</text><text x="93" y="697.9" text-anchor="middle">-40</text><text x="129.4" y="697.9" text-anchor="middle">-20</text><text x="165.8" y="697.9" text-anchor="middle">0</text><text x="202.2" y="697.9" text-anchor="middle">20</text><text x="238.6" y="697.9" text-anchor="middle">40</text><text x="275" y="697.9" text-anchor="middle">60</text><text x="73.34" y="419.1" text-anchor="middle">-2</text><text x="119.57" y="419.1" text-anchor="middle">-1</text><text x="165.8" y="419.1" text-anchor="middle">0</text><text x="212.03" y="419.1" text-anchor="middle">1</text><text x="258.26" y="419.1" text-anchor="middle">2</text><text x="301.3" y="662.3">-75</text><text x="301.3" y="626.95">-50</text><text x="301.3" y="591.6">-25</text><text x="301.3" y="556.25">0</text><text x="301.3" y="520.9">25</text><text x="301.3" y="485.55">50</text><text x="301.3" y="450.2">75</text></g>
<g font-family="'Liberation Serif', serif" font-weight="bold" font-size="12.9" fill="#111"><text x="165.8" y="711.8" text-anchor="middle" textLength="106" lengthAdjust="spacingAndGlyphs">Displacement [mm]</text><text x="165.8" y="406.7" text-anchor="middle" textLength="99.5" lengthAdjust="spacingAndGlyphs">Displacement [in.]</text><text transform="translate(10.4 553.35) rotate(-90)" text-anchor="middle" textLength="102.5" lengthAdjust="spacingAndGlyphs">Applied Load [kN]</text><text transform="translate(329 553.25) rotate(-90)" text-anchor="middle" textLength="108.5" lengthAdjust="spacingAndGlyphs">Applied Load [kips]</text></g>
<rect x="53" y="438" width="89.1" height="47.5" rx="5.5" fill="#fff" stroke="#333" stroke-width="1"/>
<text x="98" y="454.2" font-family="'Liberation Serif', serif" font-weight="bold" font-size="12" text-anchor="middle" fill="#111">RC-118</text>
<circle cx="68.1" cy="463.5" r="2.5" fill="#fff" stroke="#222" stroke-width="0.8"/>
<path d="M68.1 473.5l2.5 4h-5z" fill="#fff" stroke="#222" stroke-width="0.8"/>
<g font-family="'Liberation Serif', serif" font-weight="bold" font-size="8.4" fill="#222" stroke="#222" stroke-width="0.12"><text x="82.2" y="466.7" textLength="41.4" lengthAdjust="spacingAndGlyphs">Yield Load</text><text x="82.2" y="478.4" textLength="54.5" lengthAdjust="spacingAndGlyphs">Ultimate Load</text></g>
<path d="M169.89 568.15v7.1M173.99 568.15v7.1M182.18 568.15v7.1M190.25 568.15v7.1M198.56 568.15v7.1M215.44 568.15v7.1M247.7 568.15v7.1M275 568.15v7.1" stroke="#222" stroke-width="0.8" fill="none"/>
<g font-family="'Liberation Serif', serif" font-weight="bold" font-size="5" fill="#222"><text x="171.39" y="566.55" text-anchor="middle">1/400</text><text x="174.79" y="580.35" text-anchor="middle">1/200</text><text x="183.68" y="566.55" text-anchor="middle">1/100</text><text x="191.05" y="580.35" text-anchor="middle">1/67</text><text x="200.06" y="566.55" text-anchor="middle">1/50</text><text x="216.24" y="580.35" text-anchor="middle">1/33</text><text x="249.2" y="566.55" text-anchor="middle">1/20</text><text x="275.8" y="580.35" text-anchor="middle">1/15</text></g>
<path d="M86 638.6C85.75 638.12 84.75 637.88 84.5 635.7C84.25 633.52 84.25 628.9 84.5 625.5C84.75 622.1 85.27 619.43 86 615.3C86.73 611.17 87.82 605.57 88.9 600.7C89.98 595.83 91.15 590.55 92.5 586.1C93.85 581.65 95.58 577.18 97 574C98.42 570.82 99.32 569.28 101 567C102.68 564.72 105.02 562.75 107.1 560.3C109.18 557.85 110.82 554.98 113.5 552.3C116.18 549.62 119.45 546.88 123.2 544.2C126.95 541.52 131.98 538.6 136 536.2C140.02 533.8 143.82 531.93 147.3 529.8C150.78 527.67 154.5 524.68 156.9 523.4C159.3 522.12 160.27 522.42 161.7 522.1C163.13 521.78 164.28 522.35 165.5 521.5C166.72 520.65 167.62 518.53 169 517C170.38 515.47 171.13 513.97 173.8 512.3C176.47 510.63 181.6 508.77 185 507C188.4 505.23 191.2 503.7 194.2 501.7C197.2 499.7 200.08 497.18 203 495C205.92 492.82 208.3 491.13 211.7 488.6C215.1 486.07 220.23 481.82 223.4 479.8C226.57 477.78 228.27 477.72 230.7 476.5C233.13 475.28 235.32 473.77 238 472.5C240.68 471.23 244.37 469.98 246.8 468.9C249.23 467.82 251.32 466.6 252.6 466C253.88 465.4 253.77 464.97 254.5 465.3C255.23 465.63 256.35 465.82 257 468C257.65 470.18 258.17 473.27 258.4 478.4C258.63 483.53 258.4 491.75 258.4 498.8C258.4 505.85 258.4 514.83 258.4 520.7C258.4 526.57 258.55 531.12 258.4 534C258.25 536.88 257.93 536.43 257.5 538C257.07 539.57 257.22 541.65 255.8 543.4C254.38 545.15 251.38 546.95 249 548.5C246.62 550.05 244.02 551.45 241.5 552.7C238.98 553.95 236.83 554.75 233.9 556C230.97 557.25 227.25 558.65 223.9 560.2C220.55 561.75 216.88 564.03 213.8 565.3C210.72 566.57 208.48 567.12 205.4 567.8C202.32 568.48 198.38 568.7 195.3 569.4C192.22 570.1 189.7 571.15 186.9 572C184.1 572.85 181.02 573.38 178.5 574.5C175.98 575.62 173.75 577.17 171.8 578.7C169.85 580.23 168.02 581.98 166.8 583.7C165.58 585.42 165.65 586.62 164.5 589C163.35 591.38 162 594.88 159.9 598C157.8 601.12 154.83 604.22 151.9 607.7C148.97 611.18 145.25 615.7 142.3 618.9C139.35 622.1 136.88 624.7 134.2 626.9C131.52 629.1 129.13 630.62 126.2 632.1C123.27 633.58 119.82 634.83 116.6 635.8C113.38 636.77 110.65 637.37 106.9 637.9C103.15 638.43 97.58 638.88 94.1 639C90.62 639.12 87.35 638.67 86 638.6" fill="none" stroke="#111" stroke-width="1.15" stroke-linejoin="round" stroke-linecap="round"/>
<path d="M172 515C173 513.5 175.83 508.83 178 506C180.17 503.17 183 500.17 185 498C187 495.83 188.42 494.38 190 493C191.58 491.62 193.02 491.72 194.5 489.7C195.98 487.68 197.15 483.38 198.9 480.9C200.65 478.42 202.95 476.7 205 474.8C207.05 472.9 209.45 470.97 211.2 469.5C212.95 468.03 214.2 466.87 215.5 466C216.8 465.13 217.53 464.82 219 464.3C220.47 463.78 222.47 463.32 224.3 462.9C226.13 462.48 228.68 462.02 230 461.8C231.32 461.58 230.87 461.43 232.2 461.6C233.53 461.77 235.93 462.47 238 462.8C240.07 463.13 243.02 463.07 244.6 463.6C246.18 464.13 246.95 464.93 247.5 466C248.05 467.07 247.95 468 247.9 470C247.85 472 247.38 475.63 247.2 478C247.02 480.37 247.37 480.73 246.8 484.2C246.23 487.67 244.78 493.93 243.8 498.8C242.82 503.67 242.12 509.02 240.9 513.4C239.68 517.78 238.15 522.17 236.5 525.1C234.85 528.03 232.45 529.3 231 531C229.55 532.7 229.07 533.85 227.8 535.3C226.53 536.75 224.38 538.23 223.4 539.7C222.42 541.17 222.87 542.4 221.9 544.1C220.93 545.8 218.95 548.62 217.6 549.9C216.25 551.18 215.83 550.63 213.8 551.8C211.77 552.97 208.2 555.22 205.4 556.9C202.6 558.58 199.8 560.22 197 561.9C194.2 563.58 191.4 565.18 188.6 567C185.8 568.82 182.72 571.13 180.2 572.8C177.68 574.47 175.45 575.73 173.5 577C171.55 578.27 169.92 578.9 168.5 580.4C167.08 581.9 165.58 585.07 165 586" fill="none" stroke="#111" stroke-width="1.15" stroke-linejoin="round" stroke-linecap="round"/>
<path d="M163 585C163.33 581.67 164.42 570.83 165 565C165.58 559.17 165.92 555 166.5 550C167.08 545 167.83 539.5 168.5 535C169.17 530.5 169.58 527.17 170.5 523C171.42 518.83 172.75 514.17 174 510C175.25 505.83 176.77 501.1 178 498C179.23 494.9 180.62 493.23 181.4 491.4C182.18 489.57 182.12 488.75 182.7 487C183.28 485.25 184.1 482.93 184.9 480.9C185.7 478.87 186.63 476.7 187.5 474.8C188.37 472.9 189.22 470.97 190.1 469.5C190.98 468.03 191.85 467.02 192.8 466C193.75 464.98 194.78 464.02 195.8 463.4C196.82 462.78 197.65 462.73 198.9 462.3C200.15 461.87 201.7 461.28 203.3 460.8C204.9 460.32 206.88 459.63 208.5 459.4C210.12 459.17 211.83 459.03 213 459.4C214.17 459.77 215.22 459.92 215.5 461.6C215.78 463.28 215.07 466.72 214.7 469.5C214.33 472.28 213.75 475.38 213.3 478.3C212.85 481.22 212.5 484.38 212 487C211.5 489.62 211.02 491.37 210.3 494C209.58 496.63 208.58 499.8 207.7 502.8C206.82 505.8 205.78 509.27 205 512C204.22 514.73 204.32 516.05 203 519.2C201.68 522.35 199.3 527 197.1 530.9C194.9 534.8 192.23 538.95 189.8 542.6C187.37 546.25 184.68 549.9 182.5 552.8C180.32 555.7 178.45 557.8 176.7 560C174.95 562.2 173.45 563.5 172 566C170.55 568.5 169.17 571 168 575C166.83 579 165.5 587.5 165 590" fill="none" stroke="#111" stroke-width="1.15" stroke-linejoin="round" stroke-linecap="round"/>
<path d="M166 560C166.33 557.5 167.33 549.67 168 545C168.67 540.33 169.25 536.17 170 532C170.75 527.83 171.5 523.67 172.5 520C173.5 516.33 174.75 513.33 176 510C177.25 506.67 178.83 502.67 180 500C181.17 497.33 182.03 495.43 183 494C183.97 492.57 185.12 492.57 185.8 491.4C186.48 490.23 186.6 488.6 187.1 487C187.6 485.4 188.15 483.7 188.8 481.8C189.45 479.9 190.2 477.65 191 475.6C191.8 473.55 192.72 471.25 193.6 469.5C194.48 467.75 195.48 466.3 196.3 465.1C197.12 463.9 198.22 461.57 198.5 462.3C198.78 463.03 198.23 466.83 198 469.5C197.77 472.17 197.38 475.67 197.1 478.3C196.82 480.93 196.65 483.12 196.3 485.3C195.95 487.48 195.45 488.92 195 491.4C194.55 493.88 194.02 497.1 193.6 500.2C193.18 503.3 192.93 507.03 192.5 510C192.07 512.97 191.92 515.33 191 518C190.08 520.67 188.5 523.33 187 526C185.5 528.67 183.75 531.17 182 534C180.25 536.83 178.25 540 176.5 543C174.75 546 172.92 548.83 171.5 552C170.08 555.17 169 558.17 168 562C167 565.83 165.92 572.83 165.5 575" fill="none" stroke="#111" stroke-width="1.15" stroke-linejoin="round" stroke-linecap="round"/>
<path d="M164.1 531.1C163.6 531.75 163.05 533.13 161.1 535C159.15 536.87 155.32 539.62 152.4 542.3C149.48 544.98 146.28 547.93 143.6 551.1C140.92 554.27 138.48 557.65 136.3 561.3C134.12 564.95 132.45 568.38 130.5 573C128.55 577.62 126.3 583.65 124.6 589C122.9 594.35 121.38 600.47 120.3 605.1C119.22 609.73 118.72 612.92 118.1 616.8C117.48 620.68 116.85 625.1 116.6 628.4C116.35 631.7 116.28 635.07 116.6 636.6C116.92 638.13 117.43 637.33 118.5 637.6C119.57 637.87 120.65 638.1 123 638.2C125.35 638.3 130.87 639.55 132.6 638.2C134.33 636.85 133.13 632.78 133.4 630.1C133.67 627.42 133.53 625.57 134.2 622.1C134.87 618.63 136.32 613.32 137.4 609.3C138.48 605.28 139.62 601.22 140.7 598C141.78 594.78 142.68 593 143.9 590C145.12 587 146.48 583.33 148 580C149.52 576.67 151.33 573.33 153 570C154.67 566.67 156.5 563.33 158 560C159.5 556.67 160.83 553.33 162 550C163.17 546.67 164.5 541.67 165 540" fill="none" stroke="#111" stroke-width="1.15" stroke-linejoin="round" stroke-linecap="round"/>
<path d="M166 540C165.67 541.67 164.83 546.67 164 550C163.17 553.33 162.33 556.33 161 560C159.67 563.67 157.67 567.83 156 572C154.33 576.17 152.48 580.93 151 585C149.52 589.07 148.28 592.88 147.1 596.4C145.92 599.92 144.97 602.88 143.9 606.1C142.83 609.32 141.78 612.23 140.7 615.7C139.62 619.17 138.48 623.15 137.4 626.9C136.32 630.65 135.13 634.58 134.2 638.2C133.27 641.82 130.98 648.33 131.8 648.6C132.62 648.87 136.55 642.88 139.1 639.8C141.65 636.72 144.43 633.85 147.1 630.1C149.77 626.35 152.7 621.57 155.1 617.3C157.5 613.03 159.9 608.25 161.5 604.5C163.1 600.75 163.92 598.05 164.7 594.8C165.48 591.55 165.78 588.8 166.2 585C166.62 581.2 166.9 576.17 167.2 572C167.5 567.83 167.87 562 168 560" fill="none" stroke="#111" stroke-width="1.15" stroke-linejoin="round" stroke-linecap="round"/>
<path d="M167 548C166.67 549.67 165.67 555 165 558C164.33 561 163.83 562.67 163 566C162.17 569.33 161 574 160 578C159 582 158.08 585.87 157 590C155.92 594.13 154.62 598.78 153.5 602.8C152.38 606.82 151.63 609.55 150.3 614.1C148.97 618.65 146.83 624.75 145.5 630.1C144.17 635.45 143.1 641.65 142.3 646.2C141.5 650.75 140.83 655.35 140.7 657.4C140.57 659.45 140.97 658.5 141.5 658.5C142.03 658.5 142.7 658.65 143.9 657.4C145.1 656.15 147.1 653.67 148.7 651C150.3 648.33 152.03 644.2 153.5 641.4C154.97 638.6 156.3 637.42 157.5 634.2C158.7 630.98 159.77 626.78 160.7 622.1C161.63 617.42 162.43 610.65 163.1 606.1C163.77 601.55 164.22 598.82 164.7 594.8C165.18 590.78 165.62 586.13 166 582C166.38 577.87 166.58 574.33 167 570C167.42 565.67 168.25 558.33 168.5 556" fill="none" stroke="#111" stroke-width="1.15" stroke-linejoin="round" stroke-linecap="round"/>
<path d="M163 580C163.42 576.33 164.67 565 165.5 558C166.33 551 167.08 544.33 168 538C168.92 531.67 169.92 525.33 171 520C172.08 514.67 173.33 510 174.5 506C175.67 502 176.8 498.87 178 496C179.2 493.13 180.53 490.3 181.7 488.8C182.87 487.3 184.08 487.42 185 487C185.92 486.58 186.3 486.42 187.2 486.3C188.1 486.18 189.68 486.02 190.4 486.3C191.12 486.58 191.4 487.05 191.5 488C191.6 488.95 191.42 490 191 492C190.58 494 189.75 497.33 189 500C188.25 502.67 187.42 505.33 186.5 508C185.58 510.67 184.58 513.17 183.5 516C182.42 518.83 181.25 522 180 525C178.75 528 177.33 530.67 176 534C174.67 537.33 173.25 541.33 172 545C170.75 548.67 169.5 552.17 168.5 556C167.5 559.83 166.83 563.67 166 568C165.17 572.33 164.5 576.67 163.5 582C162.5 587.33 161.42 594 160 600C158.58 606 156.67 612.67 155 618C153.33 623.33 150.83 629.67 150 632" fill="none" stroke="#111" stroke-width="1.15" stroke-linejoin="round" stroke-linecap="round"/>
<path d="M164 578C164.42 574.67 165.58 564.33 166.5 558C167.42 551.67 168.42 545.67 169.5 540C170.58 534.33 171.67 528.83 173 524C174.33 519.17 176 514.67 177.5 511C179 507.33 180.42 504.5 182 502C183.58 499.5 185.37 497.82 187 496C188.63 494.18 190.55 492.23 191.8 491.1C193.05 489.97 193.52 489.52 194.5 489.2C195.48 488.88 196.97 488.97 197.7 489.2C198.43 489.43 198.78 489.45 198.9 490.6C199.02 491.75 198.78 493.8 198.4 496.1C198.02 498.4 197.37 501.48 196.6 504.4C195.83 507.32 194.45 511.15 193.8 513.6C193.15 516.05 193.35 517.57 192.7 519.1C192.05 520.63 190.97 521.42 189.9 522.8C188.83 524.18 187.52 525.72 186.3 527.4C185.08 529.08 183.83 530.92 182.6 532.9C181.37 534.88 180.08 537.12 178.9 539.3C177.72 541.48 176.65 543.72 175.5 546C174.35 548.28 173.17 550.33 172 553C170.83 555.67 169.58 558.33 168.5 562C167.42 565.67 166.58 569.5 165.5 575C164.42 580.5 163.42 588.33 162 595C160.58 601.67 158.83 608.83 157 615C155.17 621.17 152 629.17 151 632" fill="none" stroke="#111" stroke-width="1.15" stroke-linejoin="round" stroke-linecap="round"/>
<path d="M133.4 625.5C135.1 624.05 140.43 619.97 143.6 616.8C146.77 613.63 149.72 609.67 152.4 606.5C155.08 603.33 157.77 600.22 159.7 597.8C161.63 595.38 162.95 594.13 164 592C165.05 589.87 165.67 586.17 166 585" fill="none" stroke="#111" stroke-width="1.15" stroke-linejoin="round" stroke-linecap="round"/>
<path d="M134.4 569.9C135.73 567.77 139.8 560.92 142.4 557.1C145 553.28 147.73 550.02 150 547C152.27 543.98 154.32 541.07 156 539C157.68 536.93 158.75 535.92 160.1 534.6C161.45 533.28 162.87 532.53 164.1 531.1C165.33 529.67 166.35 528.18 167.5 526C168.65 523.82 169.75 520.67 171 518C172.25 515.33 173.5 513 175 510C176.5 507 178.17 503 180 500C181.83 497 184.33 494 186 492C187.67 490 189.33 488.67 190 488" fill="none" stroke="#111" stroke-width="1.15" stroke-linejoin="round" stroke-linecap="round"/>
<path d="M155.3 569.9C156.1 568.3 158.5 563.5 160.1 560.3C161.7 557.1 163.58 554.08 164.9 550.7C166.22 547.32 166.82 543.78 168 540C169.18 536.22 170.5 532 172 528C173.5 524 175.33 519.83 177 516C178.67 512.17 180.3 508.17 182 505C183.7 501.83 186.33 498.33 187.2 497" fill="none" stroke="#111" stroke-width="1.15" stroke-linejoin="round" stroke-linecap="round"/>
<path d="M172.5 510C172.08 512 170.7 517.67 170 522C169.3 526.33 168.8 531.33 168.3 536C167.8 540.67 167.42 545.17 167 550C166.58 554.83 166.3 560 165.8 565C165.3 570 164.8 575 164 580C163.2 585 162.33 590.33 161 595C159.67 599.67 158.05 603.5 156 608C153.95 612.5 150.87 617.83 148.7 622C146.53 626.17 144.78 629.67 143 633C141.22 636.33 138.83 640.5 138 642" fill="none" stroke="#111" stroke-width="1.15" stroke-linejoin="round" stroke-linecap="round"/>
<path d="M171.8 512C171.42 514 170.17 519.67 169.5 524C168.83 528.33 168.3 533.33 167.8 538C167.3 542.67 166.93 547.33 166.5 552C166.07 556.67 165.73 561.17 165.2 566C164.67 570.83 164.17 576 163.3 581C162.43 586 161.38 591.17 160 596C158.62 600.83 156.62 605.67 155 610C153.38 614.33 151.8 618.33 150.3 622C148.8 625.67 147.47 628.33 146 632C144.53 635.67 142.25 642 141.5 644" fill="none" stroke="#111" stroke-width="1.15" stroke-linejoin="round" stroke-linecap="round"/>
<path d="M173 514C172.63 516 171.43 521.67 170.8 526C170.17 530.33 169.67 535.33 169.2 540C168.73 544.67 168.42 549.33 168 554C167.58 558.67 167.2 563.17 166.7 568C166.2 572.83 165.7 578 165 583C164.3 588 163.42 593.5 162.5 598C161.58 602.5 160.6 606 159.5 610C158.4 614 157.15 618.17 155.9 622C154.65 625.83 153.48 629.17 152 633C150.52 636.83 147.83 643 147 645" fill="none" stroke="#111" stroke-width="1.15" stroke-linejoin="round" stroke-linecap="round"/>
<path d="M173.8 506C173.37 507.67 171.97 512.33 171.2 516C170.43 519.67 169.8 523.67 169.2 528C168.6 532.33 168.08 537.33 167.6 542C167.12 546.67 166.73 551.33 166.3 556C165.87 560.67 165.55 565.17 165 570C164.45 574.83 163.83 580 163 585C162.17 590 161 595.67 160 600C159 604.33 158.08 607.33 157 611C155.92 614.67 154.83 618.33 153.5 622C152.17 625.67 150.58 629.17 149 633C147.42 636.83 144.83 643 144 645" fill="none" stroke="#111" stroke-width="1.15" stroke-linejoin="round" stroke-linecap="round"/>
<path d="M175.2 507C174.77 508.67 173.38 513.33 172.6 517C171.82 520.67 171.13 524.67 170.5 529C169.87 533.33 169.32 538.33 168.8 543C168.28 547.67 167.87 552.33 167.4 557C166.93 561.67 166.52 566.17 166 571C165.48 575.83 164.97 581.17 164.3 586C163.63 590.83 162.67 595.83 162 600C161.33 604.17 160.92 607.33 160.3 611C159.68 614.67 159.1 618.33 158.3 622C157.5 625.67 155.97 631.17 155.5 633" fill="none" stroke="#111" stroke-width="1.15" stroke-linejoin="round" stroke-linecap="round"/>
<path d="M173 509C172.6 510.67 171.32 515.33 170.6 519C169.88 522.67 169.27 526.67 168.7 531C168.13 535.33 167.68 540.33 167.2 545C166.72 549.67 166.27 554.33 165.8 559C165.33 563.67 164.97 568.17 164.4 573C163.83 577.83 163.3 583.17 162.4 588C161.5 592.83 160.57 597.67 159 602C157.43 606.33 155.92 610.67 153 614C150.08 617.33 144.33 619.33 141.5 622C138.67 624.67 136.92 628.67 136 630" fill="none" stroke="#111" stroke-width="1.15" stroke-linejoin="round" stroke-linecap="round"/>
<circle cx="176.8" cy="489.7" r="2.7" fill="#fff" stroke="#222" stroke-width="0.8"/>
<path d="M215.4 459.3l2.9 4.8h-5.8z" fill="#fff" stroke="#222" stroke-width="0.8" stroke-linejoin="round"/>
<circle cx="157.5" cy="634.2" r="2.7" fill="#fff" stroke="#222" stroke-width="0.8"/>
<path d="M141.5 655.7l2.9 4.8h-5.8z" fill="#fff" stroke="#222" stroke-width="0.8" stroke-linejoin="round"/>
<text x="35.8" y="758.5" font-family="'Liberation Serif', serif" font-weight="bold" font-size="14.5" fill="#111">(c)</text>
<text x="57.5" y="760.3" font-family="'Liberation Sans', sans-serif" font-size="16" fill="#111" stroke="#111" stroke-width="0.55" textLength="55.35" lengthAdjust="spacingAndGlyphs">RC-118</text>
<path d="M410.57 425.6V678.8M446.71 425.6V678.8M482.86 425.6V678.8M555.14 425.6V678.8M591.29 425.6V678.8M627.43 425.6V678.8M392.5 647.15H645.5M392.5 615.5H645.5M392.5 583.85H645.5M392.5 520.55H645.5M392.5 488.9H645.5M392.5 457.25H645.5" stroke="#e4e4e4" stroke-width="0.7" fill="none"/>
<path d="M392.5 552.2H645.5M519 425.6V678.8" stroke="#111" stroke-width="1.3" fill="none"/>
<path d="M392.5 678.8h4.8M392.5 662.97h2.9M392.5 647.15h4.8M392.5 631.32h2.9M392.5 615.5h4.8M392.5 599.67h2.9M392.5 583.85h4.8M392.5 568.02h2.9M392.5 552.2h4.8M392.5 536.38h2.9M392.5 520.55h4.8M392.5 504.73h2.9M392.5 488.9h4.8M392.5 473.07h2.9M392.5 457.25h4.8M392.5 441.43h2.9M392.5 425.6h4.8M410.57 678.8v4.5M446.71 678.8v4.5M482.86 678.8v4.5M519 678.8v4.5M555.14 678.8v4.5M591.29 678.8v4.5M627.43 678.8v4.5M404.25 425.6v2.9M427.2 425.6v4.3M450.15 425.6v2.9M473.1 425.6v4.3M496.05 425.6v2.9M519 425.6v4.3M541.95 425.6v2.9M564.9 425.6v4.3M587.85 425.6v2.9M610.8 425.6v4.3M633.75 425.6v2.9M645.5 675.39h2.3M645.5 657.79h4.7M645.5 640.19h2.3M645.5 622.59h4.7M645.5 604.99h2.3M645.5 587.4h4.7M645.5 569.8h2.3M645.5 552.2h4.7M645.5 534.6h2.3M645.5 517h4.7M645.5 499.41h2.3M645.5 481.81h4.7M645.5 464.21h2.3M645.5 446.61h4.7M645.5 429.01h2.3" stroke="#111" stroke-width="1.2" fill="none"/>
<rect x="392.5" y="425.6" width="253" height="253.2" fill="none" stroke="#111" stroke-width="1.4"/>
<g font-family="'Liberation Serif', serif" font-weight="bold" font-size="10.3" fill="#111" stroke="#111" stroke-width="0.15"><text x="387.9" y="682.2" text-anchor="end">-400</text><text x="387.9" y="650.55" text-anchor="end">-300</text><text x="387.9" y="618.9" text-anchor="end">-200</text><text x="387.9" y="587.25" text-anchor="end">-100</text><text x="387.9" y="555.6" text-anchor="end">0</text><text x="387.9" y="523.95" text-anchor="end">100</text><text x="387.9" y="492.3" text-anchor="end">200</text><text x="387.9" y="460.65" text-anchor="end">300</text><text x="387.9" y="429" text-anchor="end">400</text><text x="410.57" y="696.7" text-anchor="middle">-60</text><text x="446.71" y="696.7" text-anchor="middle">-40</text><text x="482.86" y="696.7" text-anchor="middle">-20</text><text x="519" y="696.7" text-anchor="middle">0</text><text x="555.14" y="696.7" text-anchor="middle">20</text><text x="591.29" y="696.7" text-anchor="middle">40</text><text x="627.43" y="696.7" text-anchor="middle">60</text><text x="427.2" y="419" text-anchor="middle">-2</text><text x="473.1" y="419" text-anchor="middle">-1</text><text x="519" y="419" text-anchor="middle">0</text><text x="564.9" y="419" text-anchor="middle">1</text><text x="610.8" y="419" text-anchor="middle">2</text><text x="653.6" y="661.19">-75</text><text x="653.6" y="625.99">-50</text><text x="653.6" y="590.8">-25</text><text x="653.6" y="555.6">0</text><text x="653.6" y="520.4">25</text><text x="653.6" y="485.21">50</text><text x="653.6" y="450.01">75</text></g>
<g font-family="'Liberation Serif', serif" font-weight="bold" font-size="12.9" fill="#111"><text x="519" y="710.6" text-anchor="middle" textLength="106" lengthAdjust="spacingAndGlyphs">Displacement [mm]</text><text x="519" y="406.6" text-anchor="middle" textLength="99.5" lengthAdjust="spacingAndGlyphs">Displacement [in.]</text><text transform="translate(364.5 552.7) rotate(-90)" text-anchor="middle" textLength="102.5" lengthAdjust="spacingAndGlyphs">Applied Load [kN]</text><text transform="translate(681.3 552.6) rotate(-90)" text-anchor="middle" textLength="108.5" lengthAdjust="spacingAndGlyphs">Applied Load [kips]</text></g>
<rect x="407.3" y="437.6" width="88.3" height="47.1" rx="5.5" fill="#fff" stroke="#333" stroke-width="1"/>
<text x="451.5" y="453.8" font-family="'Liberation Serif', serif" font-weight="bold" font-size="12" text-anchor="middle" fill="#111">CF-026</text>
<circle cx="421.9" cy="463.1" r="2.5" fill="#fff" stroke="#222" stroke-width="0.8"/>
<path d="M421.9 473.1l2.5 4h-5z" fill="#fff" stroke="#222" stroke-width="0.8"/>
<g font-family="'Liberation Serif', serif" font-weight="bold" font-size="8.4" fill="#222" stroke="#222" stroke-width="0.12"><text x="436.5" y="466.3" textLength="40.6" lengthAdjust="spacingAndGlyphs">Yield Load</text><text x="436.5" y="478" textLength="53.3" lengthAdjust="spacingAndGlyphs">Ultimate Load</text></g>
<path d="M523.07 567.5v7.1M527.13 567.5v7.1M535.26 567.5v7.1M543.28 567.5v7.1M551.53 567.5v7.1M568.29 567.5v7.1M600.32 567.5v7.1M627.43 567.5v7.1" stroke="#222" stroke-width="0.8" fill="none"/>
<g font-family="'Liberation Serif', serif" font-weight="bold" font-size="5" fill="#222"><text x="524.57" y="565.9" text-anchor="middle">1/400</text><text x="527.93" y="579.7" text-anchor="middle">1/200</text><text x="536.76" y="565.9" text-anchor="middle">1/100</text><text x="544.08" y="579.7" text-anchor="middle">1/67</text><text x="553.03" y="565.9" text-anchor="middle">1/50</text><text x="569.09" y="579.7" text-anchor="middle">1/33</text><text x="601.82" y="565.9" text-anchor="middle">1/20</text><text x="628.23" y="579.7" text-anchor="middle">1/15</text></g>
<path d="M502.8 631C502.55 630.82 501.42 631.1 501.3 629.9C501.18 628.7 501.82 625.98 502.1 623.8C502.38 621.62 502.55 619.13 503 616.8C503.45 614.47 504.07 612.28 504.8 609.8C505.53 607.32 506.53 604.68 507.4 601.9C508.27 599.12 509.12 596.02 510 593.1C510.88 590.18 511.87 587.25 512.7 584.4C513.53 581.55 514.28 579.07 515 576C515.72 572.93 516.43 569.33 517 566C517.57 562.67 518.02 559 518.4 556C518.78 553 518.98 551 519.3 548C519.62 545 519.97 541.5 520.3 538C520.63 534.5 520.97 530.62 521.3 527C521.63 523.38 521.82 520.63 522.3 516.3C522.78 511.97 523.55 505.6 524.2 501C524.85 496.4 525.58 492.62 526.2 488.7C526.82 484.78 527.28 480.57 527.9 477.5C528.52 474.43 529.22 472.35 529.9 470.3C530.58 468.25 531.37 466.43 532 465.2C532.63 463.97 533.2 462.73 533.7 462.9C534.2 463.07 534.78 464.12 535 466.2C535.22 468.28 535.25 472.15 535 475.4C534.75 478.65 534.08 482.28 533.5 485.7C532.92 489.12 532.27 492.5 531.5 495.9C530.73 499.3 529.75 502.7 528.9 506.1C528.05 509.5 527.17 513.15 526.4 516.3C525.63 519.45 524.95 521.88 524.3 525C523.65 528.12 523.05 531.67 522.5 535C521.95 538.33 521.42 541.67 521 545C520.58 548.33 520.33 551.67 520 555C519.67 558.33 519.4 561.33 519 565C518.6 568.67 518 573.03 517.6 577C517.2 580.97 516.98 585.38 516.6 588.8C516.22 592.22 515.73 594.58 515.3 597.5C514.87 600.42 514.42 603.78 514 606.3C513.58 608.82 513.17 610.85 512.8 612.6C512.43 614.35 512.27 615.37 511.8 616.8C511.33 618.23 510.73 619.75 510 621.2C509.27 622.65 508.42 623.98 507.4 625.5C506.38 627.02 504.67 629.38 503.9 630.3C503.13 631.22 502.98 630.88 502.8 631" fill="none" stroke="#111" stroke-width="1.15" stroke-linejoin="round" stroke-linecap="round"/>
<path d="M494.3 615C494.3 613.98 494.17 611.08 494.3 608.9C494.43 606.72 494.52 603.8 495.1 601.9C495.68 600 496.77 599.1 497.8 597.5C498.83 595.9 500 594.2 501.3 592.3C502.6 590.4 504.28 588.15 505.6 586.1C506.92 584.05 508.05 582.35 509.2 580C510.35 577.65 511.45 575 512.5 572C513.55 569 514.58 565.33 515.5 562C516.42 558.67 517.25 555.33 518 552C518.75 548.67 519.33 545.33 520 542C520.67 538.67 521.25 535.33 522 532C522.75 528.67 523.58 525.67 524.5 522C525.42 518.33 526.5 514 527.5 510C528.5 506 529.58 502 530.5 498C531.42 494 532.17 489.77 533 486C533.83 482.23 534.73 477.67 535.5 475.4C536.27 473.13 536.73 473.28 537.6 472.4C538.47 471.52 539.68 470.45 540.7 470.1C541.72 469.75 543.12 469.58 543.7 470.3C544.28 471.02 544.2 472.52 544.2 474.4C544.2 476.28 543.95 479.22 543.7 481.6C543.45 483.98 543.2 485.98 542.7 488.7C542.2 491.42 541.38 495 540.7 497.9C540.02 500.8 539.28 503.37 538.6 506.1C537.92 508.83 537.28 511.15 536.6 514.3C535.92 517.45 535.43 521.55 534.5 525C533.57 528.45 532.25 531.83 531 535C529.75 538.17 528.33 541.17 527 544C525.67 546.83 524.17 549.33 523 552C521.83 554.67 521 557 520 560C519 563 518.22 565.93 517 570C515.78 574.07 513.87 580.55 512.7 584.4C511.53 588.25 510.88 590.18 510 593.1C509.12 596.02 508.27 598.98 507.4 601.9C506.53 604.82 505.53 608.05 504.8 610.6C504.07 613.15 503.58 616.02 503 617.2C502.42 618.38 502.32 617.77 501.3 617.7C500.28 617.63 498.07 617.25 496.9 616.8C495.73 616.35 494.73 615.3 494.3 615" fill="none" stroke="#111" stroke-width="1.15" stroke-linejoin="round" stroke-linecap="round"/>
<path d="M486.4 603.6C486.4 602.88 486.25 600.75 486.4 599.3C486.55 597.85 486.87 596.22 487.3 594.9C487.73 593.58 488.13 592.42 489 591.4C489.87 590.38 491.33 589.68 492.5 588.8C493.67 587.92 494.68 587.13 496 586.1C497.32 585.07 499.08 583.62 500.4 582.6C501.72 581.58 502.63 581.43 503.9 580C505.17 578.57 506.65 576.17 508 574C509.35 571.83 510.75 569.33 512 567C513.25 564.67 514.42 562.33 515.5 560C516.58 557.67 517.5 555.5 518.5 553C519.5 550.5 520.5 547.83 521.5 545C522.5 542.17 523.5 539.33 524.5 536C525.5 532.67 526.52 528.97 527.5 525C528.48 521.03 529.23 515.87 530.4 512.2C531.57 508.53 533.13 505.72 534.5 503C535.87 500.28 537.4 497.77 538.6 495.9C539.8 494.03 540.85 492.92 541.7 491.8C542.55 490.68 542.68 489.45 543.7 489.2C544.72 488.95 546.6 489.78 547.8 490.3C549 490.82 550.3 491.37 550.9 492.3C551.5 493.23 551.4 493.95 551.4 495.9C551.4 497.85 551.25 501.28 550.9 504C550.55 506.72 549.9 509.47 549.3 512.2C548.7 514.93 547.88 518.27 547.3 520.4C546.72 522.53 546.52 523.07 545.8 525C545.08 526.93 544.13 529.67 543 532C541.87 534.33 540.5 536.83 539 539C537.5 541.17 535.83 543.17 534 545C532.17 546.83 529.92 548.33 528 550C526.08 551.67 524.08 553.33 522.5 555C520.92 556.67 519.92 557.83 518.5 560C517.08 562.17 515.42 564.67 514 568C512.58 571.33 511.25 576.98 510 580C508.75 583.02 507.67 584.2 506.5 586.1C505.33 588 504.17 589.65 503 591.4C501.83 593.15 500.67 595 499.5 596.6C498.33 598.2 497.17 599.9 496 601C494.83 602.1 493.82 602.53 492.5 603.2C491.18 603.87 489.12 604.93 488.1 605C487.08 605.07 486.68 603.83 486.4 603.6" fill="none" stroke="#111" stroke-width="1.15" stroke-linejoin="round" stroke-linecap="round"/>
<path d="M486.1 587C486.35 585.47 487.02 580.52 487.6 577.8C488.18 575.08 488.75 572.75 489.6 570.7C490.45 568.65 491.33 567.22 492.7 565.5C494.07 563.78 495.93 561.93 497.8 560.4C499.67 558.87 501.85 557.48 503.9 556.3C505.95 555.12 508.22 554.15 510.1 553.3C511.98 552.45 513.72 552.08 515.2 551.2C516.68 550.32 517.78 549.2 519 548C520.22 546.8 521.25 545.58 522.5 544C523.75 542.42 525.08 540.33 526.5 538.5C527.92 536.67 529.32 535.25 531 533C532.68 530.75 534.98 527.43 536.6 525C538.22 522.57 539.35 520.37 540.7 518.4C542.05 516.43 543.35 514.92 544.7 513.2C546.05 511.48 547.77 509.12 548.8 508.1C549.83 507.08 550.47 506.92 550.9 507.1C551.33 507.28 551.4 507.67 551.4 509.2C551.4 510.73 551.33 513.67 550.9 516.3C550.47 518.93 549.62 522.38 548.8 525C547.98 527.62 547.13 529.5 546 532C544.87 534.5 543.67 537.58 542 540C540.33 542.42 538 544.67 536 546.5C534 548.33 532 549.58 530 551C528 552.42 525.67 553.75 524 555C522.33 556.25 521.63 556.75 520 558.5C518.37 560.25 516.03 563.47 514.2 565.5C512.37 567.53 510.88 568.98 509 570.7C507.12 572.42 504.93 574.1 502.9 575.8C500.87 577.5 498.83 579.37 496.8 580.9C494.77 582.43 492.48 583.98 490.7 585C488.92 586.02 486.87 586.67 486.1 587" fill="none" stroke="#111" stroke-width="1.15" stroke-linejoin="round" stroke-linecap="round"/>
<path d="M469.2 591.1C469.28 590.08 469.27 587.38 469.7 585C470.13 582.62 470.87 579.53 471.8 576.8C472.73 574.07 473.87 571.15 475.3 568.6C476.73 566.05 478.35 563.72 480.4 561.5C482.45 559.28 485.03 557.02 487.6 555.3C490.17 553.58 492.73 552.3 495.8 551.2C498.87 550.1 502.77 549.28 506 548.7C509.23 548.12 512.87 548.07 515.2 547.7C517.53 547.33 518.47 547.3 520 546.5C521.53 545.7 522.82 544.18 524.4 542.9C525.98 541.62 527.62 540.5 529.5 538.8C531.38 537.1 533.82 534.73 535.7 532.7C537.58 530.67 539.1 528.98 540.8 526.6C542.5 524.22 544.55 520.87 545.9 518.4C547.25 515.93 548.05 513.17 548.9 511.8C549.75 510.43 550.15 510.63 551 510.2C551.85 509.77 552.82 509.53 554 509.2C555.18 508.87 556.73 508.4 558.1 508.2C559.47 508 560.48 508 562.2 508C563.92 508 567.2 507.83 568.4 508.2C569.6 508.57 569.5 508.17 569.4 510.2C569.3 512.23 568.48 516.98 567.8 520.4C567.12 523.82 566.4 527.28 565.3 530.7C564.2 534.12 562.9 538.02 561.2 540.9C559.5 543.78 557.32 546.22 555.1 548C552.88 549.78 550.28 550.75 547.9 551.6C545.52 552.45 543.18 552.58 540.8 553.1C538.42 553.62 536.17 554.1 533.6 554.7C531.03 555.3 527.62 556.02 525.4 556.7C523.18 557.38 521.67 557.75 520.3 558.8C518.93 559.85 518.73 561.37 517.2 563C515.67 564.63 513.13 566.98 511.1 568.6C509.07 570.22 507.05 571.17 505 572.7C502.95 574.23 500.85 576.1 498.8 577.8C496.75 579.5 494.73 581.37 492.7 582.9C490.67 584.43 488.65 585.88 486.6 587C484.55 588.12 482.62 588.92 480.4 589.6C478.18 590.28 475.17 590.85 473.3 591.1C471.43 591.35 469.88 591.1 469.2 591.1" fill="none" stroke="#111" stroke-width="1.15" stroke-linejoin="round" stroke-linecap="round"/>
<path d="M500.59 622C501.32 620 503.54 614 504.97 610C506.39 606 507.84 602.17 509.15 598C510.45 593.83 511.86 589.33 512.8 585C513.74 580.67 514.23 576.17 514.8 572C515.37 567.83 515.82 563.33 516.2 560C516.58 556.67 516.75 555.33 517.1 552C517.45 548.67 517.85 544 518.3 540C518.75 536 519.28 532.17 519.8 528C520.32 523.83 520.94 519.17 521.43 515C521.93 510.83 522.28 506.83 522.75 503C523.22 499.17 524 493.83 524.25 492" fill="none" stroke="#111" stroke-width="1.15" stroke-linejoin="round" stroke-linecap="round"/>
<path d="M504.61 622C505.22 620 507.08 614 508.27 610C509.45 606 510.67 602.17 511.73 598C512.78 593.83 513.79 589.33 514.6 585C515.41 580.67 516.03 576.17 516.6 572C517.17 567.83 517.62 563.33 518 560C518.38 556.67 518.55 555.33 518.9 552C519.25 548.67 519.65 544 520.1 540C520.55 536 521.03 532.17 521.6 528C522.17 523.83 522.87 519.17 523.53 515C524.2 510.83 524.87 506.83 525.57 503C526.27 499.17 527.37 493.83 527.73 492" fill="none" stroke="#111" stroke-width="1.15" stroke-linejoin="round" stroke-linecap="round"/>
<path d="M508.63 622C509.12 620 510.62 614 511.57 610C512.51 606 513.5 602.17 514.31 598C515.11 593.83 515.72 589.33 516.4 585C517.08 580.67 517.83 576.17 518.4 572C518.97 567.83 519.42 563.33 519.8 560C520.18 556.67 520.35 555.33 520.7 552C521.05 548.67 521.45 544 521.9 540C522.35 536 522.78 532.17 523.4 528C524.02 523.83 524.8 519.17 525.63 515C526.47 510.83 527.46 506.83 528.39 503C529.32 499.17 530.74 493.83 531.21 492" fill="none" stroke="#111" stroke-width="1.15" stroke-linejoin="round" stroke-linecap="round"/>
<path d="M510.44 598C510.98 595.83 512.82 589.33 513.7 585C514.58 580.67 515.13 576.17 515.7 572C516.27 567.83 516.72 563.33 517.1 560C517.48 556.67 517.65 555.33 518 552C518.35 548.67 518.75 544 519.2 540C519.65 536 520.45 530 520.7 528" fill="none" stroke="#111" stroke-width="1.15" stroke-linejoin="round" stroke-linecap="round"/>
<path d="M513.02 598C513.43 595.83 514.75 589.33 515.5 585C516.25 580.67 516.93 576.17 517.5 572C518.07 567.83 518.52 563.33 518.9 560C519.28 556.67 519.45 555.33 519.8 552C520.15 548.67 520.55 544 521 540C521.45 536 522.25 530 522.5 528" fill="none" stroke="#111" stroke-width="1.15" stroke-linejoin="round" stroke-linecap="round"/>
<path d="M515.6 598C515.88 595.83 516.68 589.33 517.3 585C517.92 580.67 518.73 576.17 519.3 572C519.87 567.83 520.32 563.33 520.7 560C521.08 556.67 521.25 555.33 521.6 552C521.95 548.67 522.35 544 522.8 540C523.25 536 524.05 530 524.3 528" fill="none" stroke="#111" stroke-width="1.15" stroke-linejoin="round" stroke-linecap="round"/>
<path d="M513.2 585C513.53 582.83 514.63 576.17 515.2 572C515.77 567.83 516.22 563.33 516.6 560C516.98 556.67 517.15 555.33 517.5 552C517.85 548.67 518.5 542 518.7 540" fill="none" stroke="#111" stroke-width="1.15" stroke-linejoin="round" stroke-linecap="round"/>
<path d="M515 585C515.33 582.83 516.43 576.17 517 572C517.57 567.83 518.02 563.33 518.4 560C518.78 556.67 518.95 555.33 519.3 552C519.65 548.67 520.3 542 520.5 540" fill="none" stroke="#111" stroke-width="1.15" stroke-linejoin="round" stroke-linecap="round"/>
<path d="M516.8 585C517.13 582.83 518.23 576.17 518.8 572C519.37 567.83 519.82 563.33 520.2 560C520.58 556.67 520.75 555.33 521.1 552C521.45 548.67 522.1 542 522.3 540" fill="none" stroke="#111" stroke-width="1.15" stroke-linejoin="round" stroke-linecap="round"/>
<circle cx="524" cy="485.7" r="2.7" fill="#fff" stroke="#222" stroke-width="0.8"/>
<path d="M533.7 460.6l2.9 4.8h-5.8z" fill="#fff" stroke="#222" stroke-width="0.8" stroke-linejoin="round"/>
<circle cx="512.8" cy="612.6" r="2.7" fill="#fff" stroke="#222" stroke-width="0.8"/>
<path d="M502.8 628l2.9 4.8h-5.8z" fill="#fff" stroke="#222" stroke-width="0.8" stroke-linejoin="round"/>
<text x="392.4" y="756.3" font-family="'Liberation Serif', serif" font-weight="bold" font-size="14.5" fill="#111">(d)</text>
<text x="411.1" y="760.5" font-family="'Liberation Sans', sans-serif" font-size="16" fill="#111" stroke="#111" stroke-width="0.55" textLength="54.65" lengthAdjust="spacingAndGlyphs">CF-026</text>
</svg>
</body></html>
